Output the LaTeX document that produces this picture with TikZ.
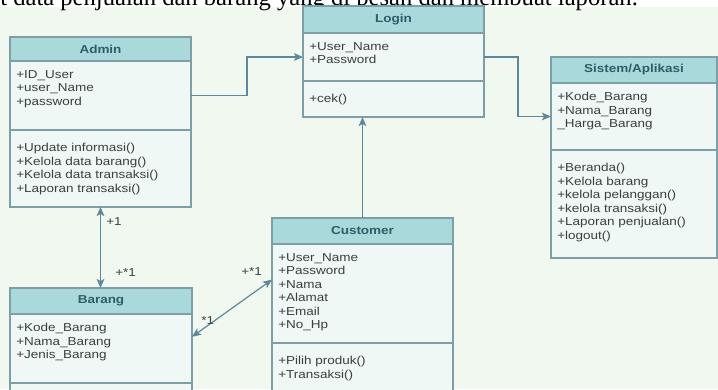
\documentclass[tikz,border=0pt]{standalone}
\usepackage{fontspec}
\setmainfont{Liberation Sans}[FakeStretch=1.17]
\newfontfamily\docfont{Liberation Serif}
\usetikzlibrary{positioning,arrows.meta,calc}

\definecolor{bgfill}{HTML}{F1F8EF}
\definecolor{bodyfill}{HTML}{EFF8F4}
\definecolor{hdrfill}{HTML}{A9D9DB}
\definecolor{boxline}{HTML}{7E9FA6}
\definecolor{hdrtext}{HTML}{2F5D68}
\definecolor{txtgray}{HTML}{3A3F41}
\definecolor{linkblue}{HTML}{5D879A}

\tikzset{
  >={Stealth[length=6.5pt,width=5.5pt,inset=1.6pt]},
  hdr/.style={draw=boxline, fill=hdrfill, line width=0.9pt, anchor=north west,
    inner sep=0pt, outer sep=0pt, text=hdrtext,
    font=\fontsize{8.2}{9.6}\selectfont\bfseries},
  sect/.style={draw=boxline, fill=bodyfill, line width=0.9pt, inner sep=0pt, outer sep=0pt},
  attr/.style={anchor=north west, align=left, inner xsep=4.3pt, inner ysep=6.4pt,
    text=txtgray, font=\fontsize{8.2}{9.6}\selectfont},
  oper/.style={attr, inner ysep=9.2pt},
  assoc/.style={draw=linkblue, line width=0.85pt},
  mult/.style={anchor=west, inner sep=0pt, text=txtgray, font=\fontsize{8.2}{9.6}\selectfont},
}

\begin{document}
\begin{tikzpicture}[x=0.025cm, y=-0.025cm]
\useasboundingbox (0,0) rectangle (718,389);
\clip (0,0) rectangle (718,389);
% page and text line above the diagram
\fill[white] (0,0) rectangle (718,7);
\fill[bgfill] (0,7) rectangle (718,389);
\node[anchor=base west, inner sep=0pt, font=\docfont\fontsize{17.5}{20}\selectfont] (doc) at (0,5)
  {t data penjualan dan barang yang di pesan dan membuat laporan.};

% Admin
\node[hdr, minimum width=181*0.025cm, minimum height=24*0.025cm] (adminH) at (10,37) {Admin};
\node[sect, minimum width=181*0.025cm, minimum height=69*0.025cm, below=0pt of adminH] (adminA) {};
\node[sect, minimum width=181*0.025cm, minimum height=77*0.025cm, below=0pt of adminA] (adminM) {};
\node[attr] (adminAt) at (adminA.north west) {+ID\_User\\+user\_Name\\+password};
\node[oper] (adminMt) at (adminM.north west)
  {+Update informasi()\\+Kelola data barang()\\+Kelola data transaksi()\\+Laporan transaksi()};

% Login
\node[hdr, minimum width=181*0.025cm, minimum height=27*0.025cm] (loginH) at (303,6) {Login};
\node[sect, minimum width=181*0.025cm, minimum height=48*0.025cm, below=0pt of loginH] (loginA) {};
\node[sect, minimum width=181*0.025cm, minimum height=36*0.025cm, below=0pt of loginA] (loginM) {};
\node[attr] (loginAt) at (loginA.north west) {+User\_Name\\+Password};
\node[oper] (loginMt) at (loginM.north west) {+cek()};

% Sistem/Aplikasi
\node[hdr, minimum width=166*0.025cm, minimum height=26*0.025cm] (sistemH) at (551,57) {Sistem/Aplikasi};
\node[sect, minimum width=166*0.025cm, minimum height=67*0.025cm, below=0pt of sistemH] (sistemA) {};
\node[sect, minimum width=166*0.025cm, minimum height=108*0.025cm, below=0pt of sistemA] (sistemM) {};
\node[attr] (sistemAt) at (sistemA.north west) {+Kode\_Barang\\+Nama\_Barang\\\_Harga\_Barang};
\node[oper] (sistemMt) at (sistemM.north west)
  {+Beranda()\\+Kelola barang\\+kelola pelanggan()\\+kelola transaksi()\\+Laporan penjualan()\\+logout()};

% Barang
\node[hdr, minimum width=182*0.025cm, minimum height=26*0.025cm] (barangH) at (10,288) {Barang};
\node[sect, minimum width=182*0.025cm, minimum height=69*0.025cm, below=0pt of barangH] (barangA) {};
\node[sect, minimum width=182*0.025cm, minimum height=40*0.025cm, below=0pt of barangA] (barangM) {};
\node[attr] (barangAt) at (barangA.north west) {+Kode\_Barang\\+Nama\_Barang\\+Jenis\_Barang};

% Customer
\node[hdr, minimum width=181*0.025cm, minimum height=26*0.025cm] (custH) at (272,218) {Customer};
\node[sect, minimum width=181*0.025cm, minimum height=99*0.025cm, below=0pt of custH] (custA) {};
\node[sect, minimum width=181*0.025cm, minimum height=60*0.025cm, below=0pt of custA] (custM) {};
\node[attr] (custAt) at (custA.north west)
  {+User\_Name\\+Password\\+Nama\\+Alamat\\+Email\\+No\_Hp};
\node[oper] (custMt) at (custM.north west) {+Pilih produk()\\+Transaksi()};

% connecting lines
\draw[assoc,->] (adminA.east) -- ++(56,0) |- (loginA.west);
\draw[assoc,->] (loginA.east) -- ++(34,0) |- (sistemA.west);
\draw[assoc,->] (custH.north) -- (custH.north |- loginM.south);
\draw[assoc,<->] (adminM.south) -- (adminM.south |- barangH.north);
\draw[assoc,<->] ($(barangA.north east)!.33!(barangA.south east)$)
  -- ($(custA.north west)!.36!(custA.south west)$);

% multiplicities
\node[mult] (m1) at (106,222) {+1};
\node[mult] (m2) at (115,273) {+*1};
\node[mult] (m3) at (241,272) {+*1};
\node[mult] (m4) at (201,321) {*1};
\end{tikzpicture}
\end{document}
